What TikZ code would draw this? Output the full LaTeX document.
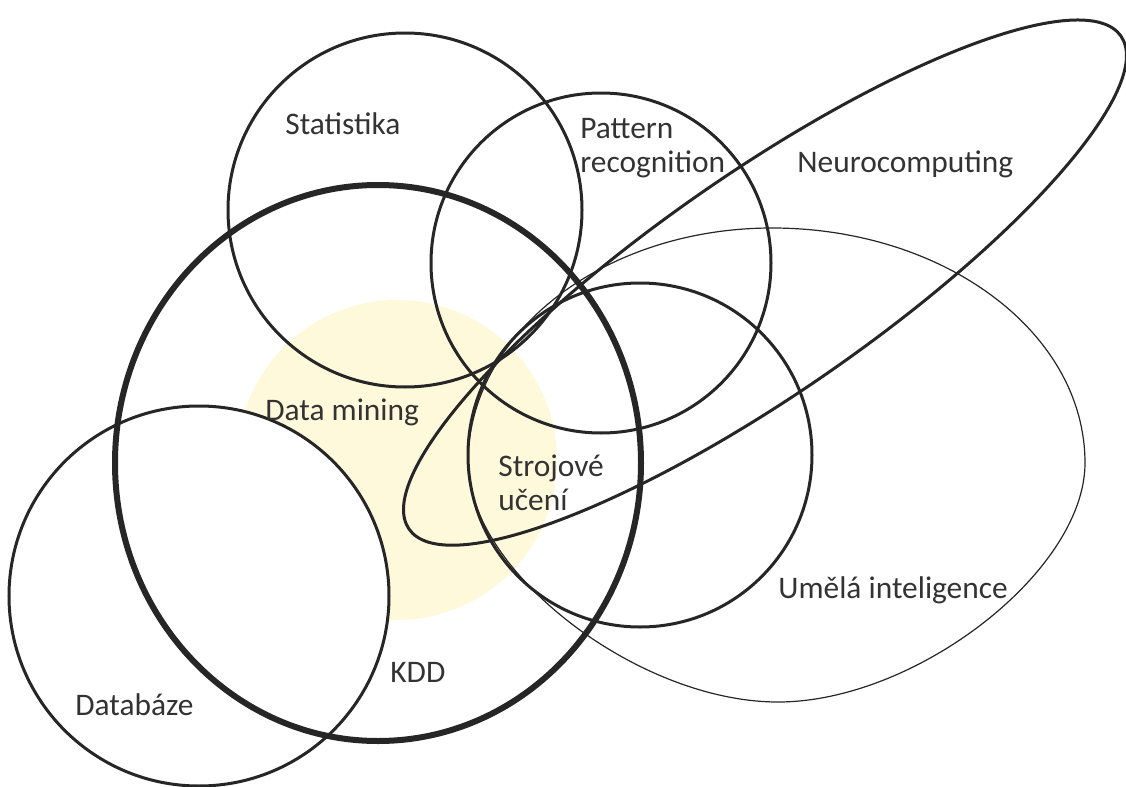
\documentclass[tikz,border=0pt]{standalone}
\usepackage{fontspec}
\setmainfont{Carlito}
\definecolor{ringgray}{HTML}{262626}
\definecolor{labelgray}{HTML}{333333}
\definecolor{minefill}{HTML}{FFF9DB}
\tikzset{
  ring/.style={draw=ringgray, line width=1.5pt},
  kddring/.style={draw=ringgray, line width=3pt},
  airing/.style={draw=ringgray, line width=0.6pt},
  lbl/.style={inner sep=0pt, anchor=base west, text=labelgray,
    font=\fontsize{15.7}{17}\selectfont, align=left},
}
\begin{document}
\begin{tikzpicture}[x=0.5pt, y=-0.5pt]
  \useasboundingbox (0,0) rectangle (1126,787);
  % Data mining spot, the Databaze disc stays white on top of it.
  \fill[minefill] (397,460) circle (160);
  \fill[white] (199,596) circle (190);

  % Umela inteligence: round on top, a little pinched below
  \draw[airing] (468,463) .. controls (468,333) and (604,228) .. (772,228)
    .. controls (945,228) and (1085,333) .. (1085,463)
    .. controls (1085,571) and (916,702) .. (778,702)
    .. controls (638,702) and (468,571) .. (468,463) -- cycle;
  % Neurocomputing
  \draw[ring, rotate around={34.7:(765,282.6)}] (765,282.6) ellipse (433 and 110);

  \draw[ring] (405,210) circle (177);
  \draw[ring] (601,263) circle (170);
  \draw[ring] (640,455) circle (172);
  \draw[ring] (199,596) circle (190);
  \draw[kddring] (378,463) ellipse (263 and 278);

  \node[lbl] (stat) at (285,134) {Statistika};
  \node[lbl] (patt) at (580,172) {Pattern\\recognition};
  \node[lbl] (neuro) at (797,172) {Neurocomputing};
  \node[lbl] (mine) at (265,420) {Data mining};
  \node[lbl] (ml) at (498,510) {Strojové\\učení};
  \node[lbl] (ai) at (778,598) {Umělá inteligence};
  \node[lbl] (kdd) at (390,682) {KDD};
  \node[lbl] (db) at (75,715) {Databáze};
\end{tikzpicture}
\end{document}
